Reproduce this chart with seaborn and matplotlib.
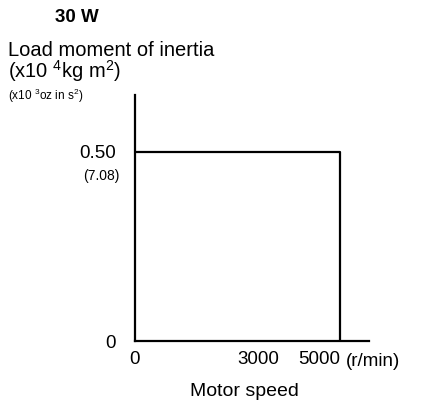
import matplotlib
matplotlib.use("Agg")
import matplotlib.pyplot as plt
import seaborn as sns
import pandas as pd

# data
speed = [0, 5000, 5000]          # r/min
inertia = [0.50, 0.50, 0.0]      # x10^-4 kg m^2
x_ticks = [0, 3000, 5000]
x_tick_labels = ["0", "3000", "5000"]
y_ticks = [0, 0.50]
y_tick_labels = ["0", "0.50"]

sns.set_style("white")
plt.rcParams['font.family'] = ['Liberation Sans', 'DejaVu Sans']
plt.rcParams['mathtext.fontset'] = 'custom'
plt.rcParams['mathtext.rm'] = 'Liberation Sans'
plt.rcParams['mathtext.it'] = 'Liberation Sans'
plt.rcParams['text.color'] = 'black'
plt.rcParams['xtick.color'] = 'black'
plt.rcParams['ytick.color'] = 'black'

df = pd.DataFrame({"speed": speed, "inertia": inertia})

fig = plt.figure(figsize=(4.22, 4.08), dpi=100)
ax = fig.add_axes([135/422, 1-341/408, (369-135)/422, (341-95)/408])

sns.lineplot(data=df, x="speed", y="inertia", sort=False, estimator=None,
             color="black", linewidth=1.6, ax=ax)

ax.set_xlim(0, 5000 * (369-135)/(340-135))
ax.set_ylim(0, 0.50 * (341-95)/(341-152))
sns.despine(ax=ax)
for s in ["left", "bottom"]:
    ax.spines[s].set_color("black")
    ax.spines[s].set_linewidth(1.6)

ax.set_xticks(x_ticks)
ax.set_xticklabels(x_tick_labels, fontsize=13.5)
ax.get_xticklabels()[2].set_ha("right")
ax.tick_params(axis="x", direction="in", length=5, width=1, pad=7, color="black")
ax.set_yticks(y_ticks)
ax.set_yticklabels(y_tick_labels, fontsize=13.5)
ax.tick_params(axis="y", length=0, pad=14)
ax.set_xlabel("")
ax.set_ylabel("")

fig.text(55/422, 1-18/408, "30 W", fontsize=13.5, fontweight="bold", va="center")
fig.text(8/422, 1-51/408, "Load moment of inertia", fontsize=14.5, va="center")
fig.text(8/422, 1-71/408, "(x10 $^{4}$kg m$^{2}$)", fontsize=14.5, va="center")
fig.text(8/422, 1-96/408, "(x10 $^{3}$oz in s$^{2}$)", fontsize=8.5, va="center")
fig.text(120/422, 1-176/408, "(7.08)", fontsize=10, va="center", ha="right")
fig.text(346/422, 1-361/408, "(r/min)", fontsize=13.5, va="center")
fig.text(244/422, 1-392/408, "Motor speed", fontsize=14, va="center", ha="center")

fig.savefig("out.png", dpi=100)
